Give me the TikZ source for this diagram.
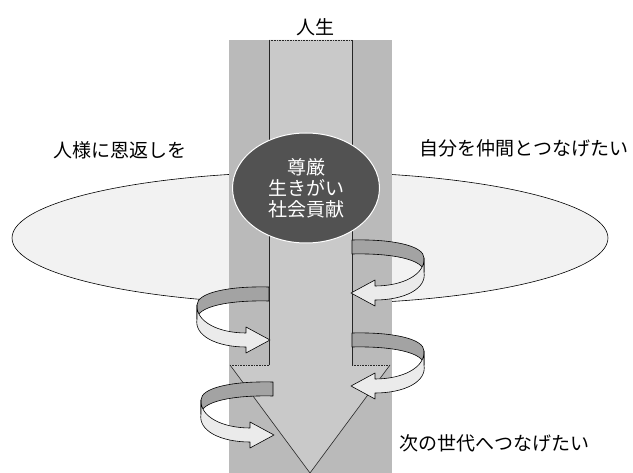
\documentclass[tikz,border=0pt]{standalone}
\usepackage{fontspec}
\usetikzlibrary{shapes.geometric}
\newfontfamily\jpfont{Noto Sans CJK JP}
\tikzset{
	jp/.style={font=\jpfont\fontsize{19}{21}\selectfont},
	strip/.style={fill=black!27},
	shaft/.style={fill=black!21},
	edge/.style={line width=0.6pt, color=black!85},
	backband/.style={fill=black!36, draw=black, line width=0.6pt, line join=round},
	frontband/.style={fill=black!8, draw=black, line width=0.6pt, line join=round}
}
\def\twistarrow[#1](#2){\begin{scope}[shift={(#2)},xscale=#1]
	\draw[backband] (0,0) .. controls (42,-1) and (72,6) .. (72,18) -- (72,32) .. controls (72,20) and (42,13) .. (0,14) -- cycle;
	\draw[frontband] (72,18) .. controls (73,35) and (50,46) .. (23,46) -- (23,40) -- (-1,53) -- (23,66) -- (23,60) .. controls (52,60) and (75,49) .. (72,32) -- cycle;
	\end{scope}}

\begin{document}
\begin{tikzpicture}[x=1pt, y=-1pt]
		%%%%% START %%%%%
		\useasboundingbox (0,0) rectangle (633,473);
		
		\draw[fill=black!5, line width=0.6pt] (310,238) ellipse [x radius=298, y radius=66];
		
		\fill[strip] (229,40) rectangle (392,473);
		
		\fill[shaft] (269,40) -- (352,40) -- (352,365) -- (390,365) -- (310,473) -- (230,365) -- (269,365) -- cycle;
		\draw[edge, densely dotted] (269,40) -- (352,40);
		\draw[edge] (269,40) -- (269,365);
		\draw[edge] (352,40) -- (352,365);
		\draw[edge, densely dotted] (269,365) -- (230,365);
		\draw[edge, densely dotted] (352,365) -- (390,365);
		\draw[edge] (230,365) -- (310,473) -- (390,365);
		
		\node (core) [ellipse, fill=black!68, draw=white, line width=1pt, minimum width=147pt, minimum height=110pt, inner sep=0pt, align=center, text=white, jp] at (306,188) {尊厳\\生きがい\\社会貢献};
		
		\twistarrow[1](352,240)
		\twistarrow[-1](269,287)
		\twistarrow[1](352,333)
		\twistarrow[-1](273,382)
		
		\node (life) [jp] at (315,27) {人生};
		\node (giveback) [jp] at (120,150) {人様に恩返しを};
		\node (connect) [jp] at (524,148) {自分を仲間とつなげたい};
		\node (nextgen) [jp] at (494,443) {次の世代へつなげたい};
		
		%%%%% END %%%%%
	\end{tikzpicture}
\end{document}
